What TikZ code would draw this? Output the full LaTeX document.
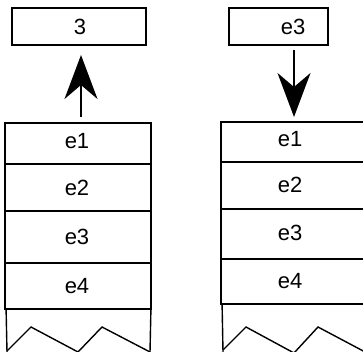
\documentclass[tikz,border=0pt]{standalone}
\usepackage{fontspec}
\setmainfont{Liberation Sans}
\usetikzlibrary{arrows.meta}
\begin{document}
\begin{tikzpicture}[x=1pt,y=-1pt,
  cell/.style={draw,line width=1.8pt,inner sep=0pt},
  lbl/.style={font=\fontsize{22}{24}\selectfont,inner sep=0pt},
  zig/.style={line width=1.4pt,line join=miter},
  big/.style={line width=1.8pt,-{Stealth[length=44pt,width=33pt,inset=14pt]}}]
\useasboundingbox (0,0) rectangle (363,352);
\clip (0,0) rectangle (363,352);
% top boxes
\node[cell,minimum width=134pt,minimum height=37pt] (t1) at (79,26.5) {};
\node[lbl] (t1l) at (80,27) {3};
\node[cell,minimum width=99pt,minimum height=37pt] (t2) at (278.5,26.5) {};
\node[lbl] (t2l) at (293,27) {e3};
% left stack
\node[cell,minimum width=146pt,minimum height=41pt] (l1) at (78,143.5) {};
\node[cell,minimum width=146pt,minimum height=47pt] (l2) at (78,187.5) {};
\node[cell,minimum width=146pt,minimum height=52pt] (l3) at (78,237) {};
\node[cell,minimum width=146pt,minimum height=46pt] (l4) at (78,286) {};
\node[lbl] (l1l) at (77,141) {e1};
\node[lbl] (l2l) at (77,188) {e2};
\node[lbl] (l3l) at (77,237) {e3};
\node[lbl] (l4l) at (77,286) {e4};
% right stack
\node[cell,minimum width=146pt,minimum height=40pt] (r1) at (294,142) {};
\node[cell,minimum width=146pt,minimum height=47pt] (r2) at (294,185.5) {};
\node[cell,minimum width=146pt,minimum height=50pt] (r3) at (294,234.5) {};
\node[cell,minimum width=146pt,minimum height=45pt] (r4) at (294,281.5) {};
\node[lbl] (r1l) at (290,139) {e1};
\node[lbl] (r2l) at (290,185) {e2};
\node[lbl] (r3l) at (290,233) {e3};
\node[lbl] (r4l) at (290,281) {e4};
% torn bottoms
\draw[zig] (l4.south west) ++(2,0) -- (7,352);
\draw[zig] (l4.south east) ++(-1,0) -- (150,352);
\draw[zig] (7,351) -- (31,327) -- (78,352) -- (102,327) -- (150,352);
\draw[zig] (r4.south west) ++(2,0) -- (223,352);
\draw[zig] (223,350) -- (246,327) -- (294,353) -- (318,327) -- (367,353);
% arrows
\coordinate (a1s) at (81,117);
\coordinate (a1e) at (81,55);
\draw[big] (a1s) -- (a1e);
\coordinate (a2s) at (294,50);
\coordinate (a2e) at (294,117);
\draw[big] (a2s) -- (a2e);
\end{tikzpicture}
\end{document}
